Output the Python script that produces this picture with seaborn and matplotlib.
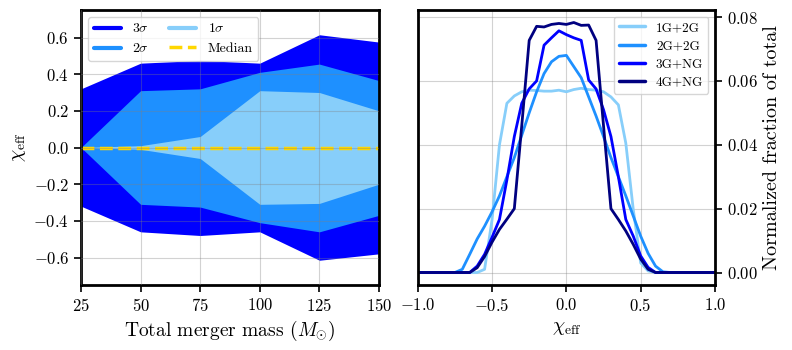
import matplotlib
matplotlib.use("Agg")
import matplotlib.pyplot as plt
import numpy as np
import pandas as pd
import seaborn as sns
from matplotlib.lines import Line2D

# left panel: chi_eff bands vs total merger mass
mass = [25, 50, 75, 100, 125, 150]
s3_hi = [0.32, 0.46, 0.475, 0.46, 0.615, 0.575]
s3_lo = [-0.32, -0.46, -0.48, -0.46, -0.615, -0.58]
s2_hi = [0.0, 0.31, 0.32, 0.41, 0.455, 0.365]
s2_lo = [0.0, -0.31, -0.325, -0.41, -0.46, -0.37]
s1_hi = [0.0, 0.01, 0.06, 0.31, 0.30, 0.20]
s1_lo = [0.0, -0.01, -0.06, -0.31, -0.305, -0.20]
median = [0.0, 0.0, 0.0, 0.0, 0.0, 0.0]

# right panel: chi_eff distributions, bins of 0.05 from -1 to 1
chi = np.round(np.arange(-1.0, 1.0001, 0.05), 2)
gen_labels = ["1G+2G", "2G+2G", "3G+NG", "4G+NG"]
frac_1g2g = [0]*8 + [0.0, 0.001, 0.0165, 0.040, 0.053, 0.0553, 0.0566, 0.0571, 0.057, 0.0568,
                     0.0568, 0.0571, 0.0566, 0.0573, 0.0577, 0.0573, 0.0571, 0.0566, 0.055, 0.0525,
                     0.0405, 0.0198, 0.003, 0.0005, 0.0] + [0]*8
frac_2g2g = [0]*5 + [0.0, 0.001, 0.0057, 0.0105, 0.0145, 0.019, 0.024, 0.030, 0.036, 0.043,
                     0.050, 0.0566, 0.0623, 0.066, 0.0677, 0.068, 0.0645, 0.061, 0.055, 0.049,
                     0.0426, 0.036, 0.030, 0.024, 0.0177, 0.0114, 0.006, 0.002, 0.0002, 0.0] + [0]*6
frac_3gng = [0]*7 + [0.0, 0.002, 0.0057, 0.011, 0.0166, 0.029, 0.0426, 0.053, 0.0575, 0.060,
                     0.0712, 0.0735, 0.0757, 0.0745, 0.0735, 0.0727, 0.0603, 0.0575, 0.051, 0.0426,
                     0.030, 0.0166, 0.0114, 0.0052, 0.0016, 0.0] + [0]*8
frac_4gng = [0]*7 + [0.0, 0.0015, 0.005, 0.0095, 0.0135, 0.0167, 0.020, 0.046, 0.0727, 0.0771,
                     0.0769, 0.0777, 0.078, 0.0777, 0.0783, 0.0774, 0.0775, 0.0727, 0.046, 0.020,
                     0.0166, 0.013, 0.0088, 0.0042, 0.001, 0.0] + [0]*8

sns.set_style("ticks")
plt.rcParams["font.family"] = ["serif"]
plt.rcParams["font.serif"] = ["cmr10", "DejaVu Serif"]
plt.rcParams["mathtext.fontset"] = "cm"
plt.rcParams["axes.formatter.use_mathtext"] = True
plt.rcParams["axes.unicode_minus"] = True
for key in ["axes.edgecolor", "text.color", "axes.labelcolor", "xtick.color", "ytick.color"]:
    plt.rcParams[key] = "black"

fig = plt.figure(figsize=(7.92, 3.5), dpi=100)
ax1 = fig.add_axes([81/792, 1 - 285/350, 298/792, 275/350])
ax2 = fig.add_axes([417.7/792, 1 - 285/350, 297.3/792, 275/350])

# left panel
ax1.fill_between(mass, s3_lo, s3_hi, color="blue", lw=0)
ax1.fill_between(mass, s2_lo, s2_hi, color="dodgerblue", lw=0)
ax1.fill_between(mass, s1_lo, s1_hi, color="lightskyblue", lw=0)
sns.lineplot(x=mass, y=median, ax=ax1, color="gold", linewidth=2.5, linestyle="--")
ax1.set_xlim(25, 150)
ax1.set_ylim(-0.75, 0.75)
ax1.set_xticks([25, 50, 75, 100, 125, 150])
ax1.set_yticks([-0.6, -0.4, -0.2, 0.0, 0.2, 0.4, 0.6])
ax1.grid(True, color="gray", alpha=0.35, lw=0.8)
ax1.set_axisbelow(False)
ax1.set_xlabel(r"Total merger mass ($M_{\odot}$)", fontsize=14)
ax1.set_ylabel(r"$\chi_{\rm eff}$", fontsize=14)
handles = [Line2D([], [], color="blue", lw=3), Line2D([], [], color="dodgerblue", lw=3),
           Line2D([], [], color="lightskyblue", lw=3), Line2D([], [], color="gold", lw=2.5, ls="--")]
ax1.legend(handles, [r"$3\sigma$", r"$2\sigma$", r"$1\sigma$", "Median"], ncol=2,
           loc="upper left", fontsize=10, columnspacing=1.4)

# right panel
df = pd.DataFrame({
    "chi": np.tile(chi, 4),
    "frac": frac_1g2g + frac_2g2g + frac_3gng + frac_4gng,
    "gen": np.repeat(gen_labels, len(chi)),
})
sns.lineplot(data=df, x="chi", y="frac", hue="gen", ax=ax2, linewidth=2,
             palette=["lightskyblue", "dodgerblue", "blue", "navy"])
ax2.set_xlim(-1, 1)
ax2.set_xticks([-1.0, -0.5, 0.0, 0.5, 1.0])
ax2.set_yticks([0.0, 0.02, 0.04, 0.06, 0.08])
ax2.yaxis.tick_right()
ax2.yaxis.set_label_position("right")
ax2.grid(True, color="gray", alpha=0.35, lw=0.8)
ax2.set_xlabel(r"$\chi_{\rm eff}$", fontsize=14)
ax2.set_ylabel("Normalized fraction of total", fontsize=14.5)
leg = ax2.legend(loc="upper right", fontsize=9.5, labelspacing=0.45)
for line in leg.get_lines():
    line.set_linewidth(2.5)

for ax in (ax1, ax2):
    for sp in ax.spines.values():
        sp.set_linewidth(2)
    ax.tick_params(labelsize=12, width=1.2, length=5)

fig.savefig("out.png", dpi=100)
